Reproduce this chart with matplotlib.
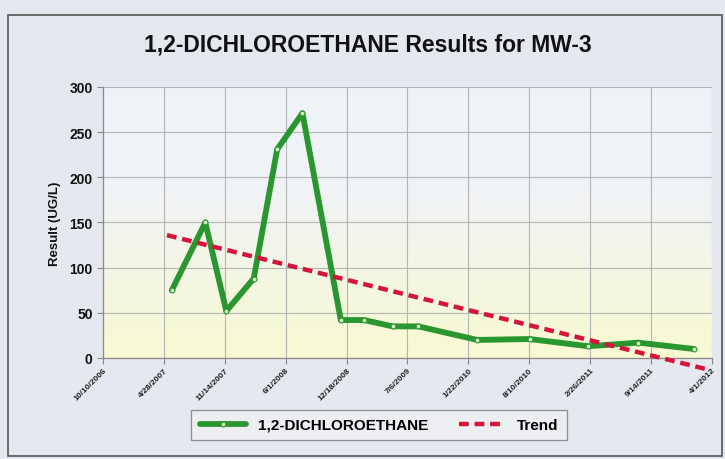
import matplotlib
matplotlib.use("Agg")
import matplotlib.pyplot as plt
from matplotlib.patches import Rectangle
import numpy as np
import pandas as pd

plt.rcParams['font.family'] = ['Liberation Sans', 'DejaVu Sans']

# ---- data ----
sample_dates = ["2007-05-24", "2007-09-11", "2007-11-19", "2008-02-17", "2008-05-04",
                "2008-07-26", "2008-11-29", "2009-02-14", "2009-05-18", "2009-08-11",
                "2010-02-20", "2010-08-11", "2011-02-20", "2011-08-03", "2012-02-01"]
results = [75, 150, 52, 88, 231, 271, 42, 42, 35, 35, 20, 21, 13, 17, 10]

trend_dates = ["2007-05-08", "2012-03-09"]
trend_values = [136, -12]

tick_labels = ["10/10/2006", "4/28/2007", "11/14/2007", "6/1/2008", "12/18/2008",
               "7/6/2009", "1/22/2010", "8/10/2010", "2/26/2011", "9/14/2011", "4/1/2012"]
y_ticks = [0, 50, 100, 150, 200, 250, 300]

series_name = "1,2-DICHLOROETHANE"
trend_name = "Trend"
title = "1,2-DICHLOROETHANE Results for MW-3"
ylabel = "Result (UG/L)"

# ---- figure ----
W, H = 725, 460
fig = plt.figure(figsize=(W / 100, H / 100), dpi=100)
fig.patch.set_facecolor("#e5e8ee")

# outer chart border
fig.patches.append(Rectangle((8 / W, 1 - 457 / H), 714 / W, 441 / H, transform=fig.transFigure,
                             fill=False, edgecolor="#555555", linewidth=1.2))

ax = fig.add_axes([103 / W, 1 - 359 / H, 609 / W, 271 / H])
ax.set_facecolor("none")

# background gradient of plot area (light gray top -> pale yellow bottom)
grad = np.linspace(0, 1, 256).reshape(-1, 1)
top_c = np.array([0.94, 0.95, 0.97])
bot_c = np.array([0.97, 0.98, 0.82])
w = np.clip((grad - 0.35) / 0.65, 0, 1)
img = top_c * (1 - w) + bot_c * w
img = img.reshape(256, 1, 3)
ax.imshow(img, extent=[0, 1, 0, 1], transform=ax.transAxes, aspect="auto",
          zorder=0, origin="upper")

d = pd.to_datetime(sample_dates)
td = pd.to_datetime(trend_dates)
tk = pd.to_datetime(tick_labels, format="%m/%d/%Y")

ax.plot(d, results, color="#2a9630", linewidth=4.2, marker="o", markersize=3.5,
        markerfacecolor="#d8f0c8", markeredgecolor="#2a9630", markeredgewidth=0.8,
        zorder=3, label=series_name, solid_capstyle="round")
ax.plot(td, trend_values, color="#d4143c", linewidth=3.2, linestyle=(0, (2.2, 1.3)),
        zorder=4, label=trend_name, clip_on=False)

ax.set_xlim(tk[0], tk[-1])
ax.set_ylim(0, 300)
ax.set_xticks(tk)
ax.set_xticklabels(tick_labels, rotation=45, ha="right", rotation_mode="anchor",
                   fontsize=6, fontweight="bold", color="#222222")
ax.set_yticks(y_ticks)
ax.set_yticklabels([str(v) for v in y_ticks], fontsize=10, fontweight="bold", color="#111111")
ax.tick_params(axis="both", length=4, color="#888888", width=0.8)
ax.tick_params(axis="x", pad=2)
ax.grid(True, color="#b4b4b4", linewidth=0.8)
ax.set_axisbelow(True)
for s in ["top", "right"]:
    ax.spines[s].set_visible(False)
for s in ["left", "bottom"]:
    ax.spines[s].set_color("#888888")
    ax.spines[s].set_linewidth(0.9)

ax.set_ylabel(ylabel, fontsize=9.5, fontweight="bold", color="#111111", labelpad=6)
fig.text(368 / W, 1 - 45 / H, title, ha="center", va="center", fontsize=16.5,
         fontweight="bold", color="#111111")

leg = fig.legend(loc="center", bbox_to_anchor=(379 / W, 1 - 426 / H), ncol=2,
                 prop={"size": 11, "weight": "bold"}, frameon=True, fancybox=False,
                 edgecolor="#777777", facecolor="#eef0f3", handlelength=3.0,
                 columnspacing=2.0, borderpad=0.55, handletextpad=0.8)
leg.get_frame().set_linewidth(0.9)

fig.savefig("out.png", dpi=100, facecolor=fig.get_facecolor())
